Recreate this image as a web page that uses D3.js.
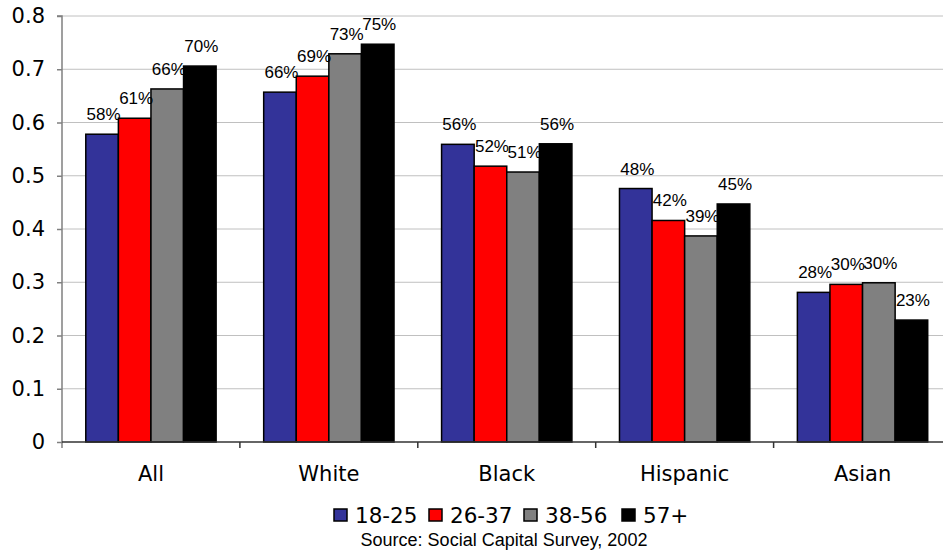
<!DOCTYPE html>
<html><head><meta charset="utf-8">
<script src="https://cdn.jsdelivr.net/npm/d3@7"></script>
<style>body{margin:0;background:#fff}svg{display:block}</style>
</head><body>
<svg id="c" width="943" height="550"></svg>
<script>
const categories = ["All","White","Black","Hispanic","Asian"];
const series = ["18-25","26-37","38-56","57+"];
const colors = ["#333399","#FF0000","#808080","#000000"];
const v1825 = [0.578,0.657,0.559,0.476,0.281];
const v2637 = [0.608,0.687,0.518,0.416,0.296];
const v3856 = [0.663,0.729,0.507,0.387,0.299];
const v57   = [0.706,0.747,0.560,0.447,0.229];
const lab1825 = ["58%","66%","56%","48%","28%"];
const lab2637 = ["61%","69%","52%","42%","30%"];
const lab3856 = ["66%","73%","51%","39%","30%"];
const lab57   = ["70%","75%","56%","45%","23%"];
const yTicks = [0,0.1,0.2,0.3,0.4,0.5,0.6,0.7,0.8];
const source = "Source: Social Capital Survey, 2002";

(function(){
const vals = [v1825,v2637,v3856,v57];
const labs = [lab1825,lab2637,lab3856,lab57];

const svg = d3.select("#c");
const mLeft = 62, mBottom = 442, mTop = 16;
const step = 177.9;
const x0 = d3.scaleBand().domain(categories).range([mLeft, mLeft + step*categories.length]).padding(0);
const x1 = d3.scaleBand().domain(series).range([0, x0.bandwidth()]).paddingInner(0).paddingOuter(0.73);
const y = d3.scaleLinear().domain([0,0.8]).range([mBottom, mTop]);

// gridlines
svg.append("g").selectAll("line").data(yTicks.filter(d=>d>0)).join("line")
  .attr("x1", mLeft).attr("x2", 943).attr("y1", d=>y(d)).attr("y2", d=>y(d))
  .attr("stroke","#c0c0c0").attr("stroke-width",1);

// bars
const data = [];
categories.forEach((c,i)=>series.forEach((s,j)=>data.push({c,s,j,v:vals[j][i],l:labs[j][i]})));
svg.append("g").selectAll("rect").data(data).join("rect")
  .attr("x", d=>x0(d.c)+x1(d.s)).attr("width", x1.bandwidth())
  .attr("y", d=>y(d.v)).attr("height", d=>mBottom - y(d.v))
  .attr("fill", d=>colors[d.j]).attr("stroke","#000").attr("stroke-width",1.5);

// value labels
svg.append("g").selectAll("text").data(data).join("text")
  .attr("x", d=>x0(d.c)+x1(d.s)+x1.bandwidth()/2+1.5)
  .attr("y", d=>y(d.v)-14)
  .attr("text-anchor","middle")
  .attr("font-family","'Liberation Sans', Arial, sans-serif")
  .attr("font-size",17).attr("fill","#000")
  .text(d=>d.l);

// y axis
const yAxis = d3.axisLeft(y).tickValues(yTicks).tickSize(5).tickPadding(12)
  .tickFormat(d=> d===0 ? "0" : d3.format(".1f")(d));
const gy = svg.append("g").attr("transform",`translate(${mLeft},0)`).call(yAxis);
gy.select(".domain").attr("stroke","#808080").attr("stroke-width",1.5).attr("d",`M-5,${mTop}H0V${mBottom+6}`);
gy.selectAll(".tick line").attr("stroke","#808080").attr("stroke-width",1.5);
gy.selectAll("text").attr("font-family","'DejaVu Sans', Verdana, sans-serif").attr("font-size",21).attr("fill","#000");

// x axis
const xAxis = d3.axisBottom(x0).tickSize(0).tickPadding(24);
const gx = svg.append("g").attr("transform",`translate(0,${mBottom})`).call(xAxis);
gx.select(".domain").attr("stroke","#333").attr("stroke-width",1.5).attr("d",`M${mLeft},0H943`);
gx.selectAll("text").attr("font-family","'DejaVu Sans', Verdana, sans-serif").attr("font-size",21).attr("fill","#000");
// boundary ticks
svg.append("g").selectAll("line").data(categories.slice(1)).join("line")
  .attr("x1", d=>x0(d)).attr("x2", d=>x0(d)).attr("y1", mBottom).attr("y2", mBottom+6)
  .attr("stroke","#333").attr("stroke-width",1.5);

// legend
const legX = [333, 428, 523, 621];
const lg = svg.append("g");
series.forEach((s,j)=>{
  lg.append("rect").attr("x",legX[j]+1).attr("y",509).attr("width",13).attr("height",12)
    .attr("fill",colors[j]).attr("stroke","#000").attr("stroke-width",1.5);
  lg.append("text").attr("x",legX[j]+22).attr("y",523)
    .attr("font-family","'DejaVu Sans', Verdana, sans-serif").attr("font-size",21.5).attr("fill","#000")
    .text(s);
});
svg.append("text").attr("x",504).attr("y",545.5).attr("text-anchor","middle")
  .attr("font-family","'Liberation Sans', Arial, sans-serif").attr("font-size",18).attr("fill","#000")
  .text(source);
})();
</script>
</body></html>
